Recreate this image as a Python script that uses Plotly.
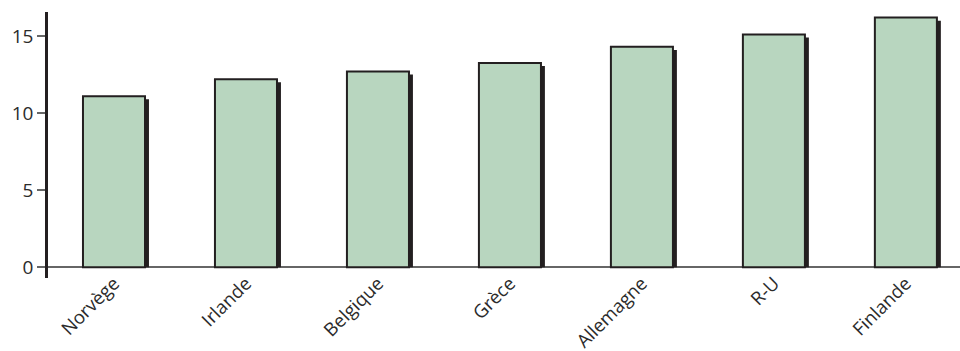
import plotly.graph_objects as go

categories = ["Norvège", "Irlande", "Belgique", "Grèce", "Allemagne", "R-U", "Finlande"]
values = [11.1, 12.2, 12.7, 13.25, 14.3, 15.1, 16.2]
y_ticks = [0, 5, 10, 15]

bar_w = 0.47
shadow_dx = 0.03
shadow_dy = 0.2

fig = go.Figure()
fig.add_trace(go.Bar(
    x=categories, y=[v - shadow_dy for v in values],
    width=bar_w, offset=-bar_w / 2 + shadow_dx,
    marker=dict(color="#231f20", line=dict(width=0)),
    hoverinfo="skip", showlegend=False,
))
fig.add_trace(go.Bar(
    x=categories, y=values,
    width=bar_w, offset=-bar_w / 2,
    marker=dict(color="#b8d6bf", line=dict(color="#231f20", width=2)),
    showlegend=False,
))

fig.update_layout(
    width=960, height=351,
    margin=dict(l=48, r=0, t=12, b=73),
    barmode="overlay",
    plot_bgcolor="white", paper_bgcolor="white",
    font=dict(family="Open Sans, Noto Sans, sans-serif", color="#2b2b2b", size=19),
    xaxis=dict(
        range=[-0.5, 6.41], showgrid=False, showline=False, ticks="",
        tickangle=-45, tickfont=dict(size=18.5), automargin=False,
        ticklabelstandoff=-10,
    ),
    yaxis=dict(
        range=[-0.7, 16.56], tickvals=y_ticks, showgrid=False,
        showline=True, linecolor="#231f20", linewidth=2.5,
        ticks="outside", ticklen=8, tickcolor="#666666", tickwidth=1.5,
        zeroline=True, zerolinecolor="#666666", zerolinewidth=1.5,
        automargin=False,
    ),
)
fig.add_shape(type="line", xref="paper", yref="y", x0=-0.011, x1=1, y0=0, y1=0,
              line=dict(color="#666666", width=1.5), layer="below")

fig.write_html("out.html")
